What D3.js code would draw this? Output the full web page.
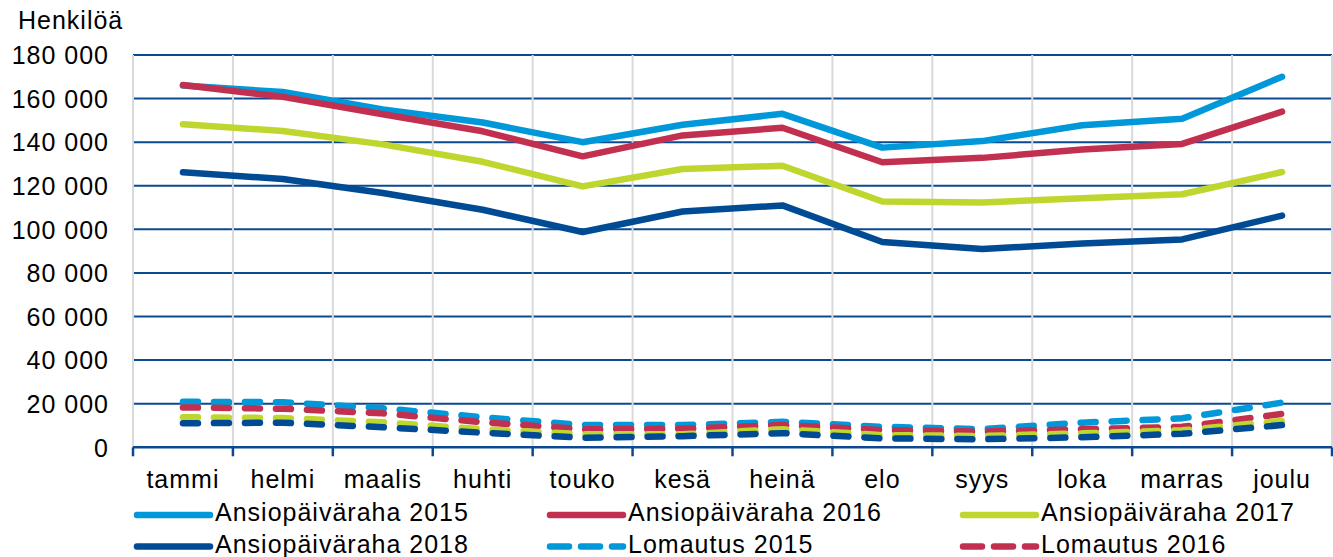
<!DOCTYPE html>
<html>
<head>
<meta charset="utf-8">
<script src="https://cdn.jsdelivr.net/npm/d3@7"></script>
<style>
  body { margin: 0; background: #fff; }
  svg { display: block; overflow: hidden; }
  text { font-family: "Liberation Sans", Arial, sans-serif; font-size: 25px; fill: #000; letter-spacing: 1px; }
</style>
</head>
<body>
<svg id="svg1" width="1333" height="557"></svg>
<script>
// months (x categories)
var months = ["tammi", "helmi", "maalis", "huhti", "touko", "kesä", "heinä", "elo", "syys", "loka", "marras", "joulu"];
var yTicks = [0, 20000, 40000, 60000, 80000, 100000, 120000, 140000, 160000, 180000];

// values
var ansio2015 = [166000, 163000, 155000, 149000, 140000, 148000, 153000, 137500, 140500, 147800, 150800, 170000];
var ansio2016 = [166200, 160800, 152800, 145000, 133500, 143100, 146600, 130800, 132800, 136600, 139200, 154000];
var ansio2017 = [148200, 145100, 139000, 131000, 119700, 127700, 129200, 112800, 112300, 114300, 116100, 126300];
var ansio2018 = [126200, 123100, 116700, 109000, 98800, 108200, 111000, 94200, 91000, 93500, 95400, 106300];
var loma2015 = [20900, 20700, 17900, 13800, 10200, 10200, 11700, 9400, 8300, 11300, 13300, 20500];
var loma2016 = [18300, 17700, 15600, 11500, 8300, 8500, 10200, 7900, 7200, 8300, 9400, 15300];
var loma2017 = [13800, 13400, 11500, 8300, 6000, 6000, 8300, 5600, 5200, 6400, 7800, 12100];
var loma2018 = [11000, 11300, 9200, 6700, 4400, 5100, 6500, 4100, 3700, 4600, 6200, 10200];

var seriesNames = ["Ansiopäiväraha 2015", "Ansiopäiväraha 2016", "Ansiopäiväraha 2017", "Ansiopäiväraha 2018",
                   "Lomautus 2015", "Lomautus 2016", "Lomautus 2017", "Lomautus 2018"];
var seriesValues = [ansio2015, ansio2016, ansio2017, ansio2018, loma2015, loma2016, loma2017, loma2018];
var colors = ["#0098d9", "#c23050", "#bfd62f", "#004b93", "#0098d9", "#c23050", "#bfd62f", "#004b93"];
var dashed = [false, false, false, false, true, true, true, true];

// only the first two legend rows fit inside the picture
var legendShown = 6;

var plotLeft = 133, plotRight = 1332, plotTop = 55, plotBottom = 447.3;

var fi = d3.formatLocale({decimal: ",", thousands: " ", grouping: [3], currency: ["", " €"]});
var fmt = fi.format(",d");

var scaleX = d3.scaleBand().domain(months).range([plotLeft, plotRight]);
var scaleY = d3.scaleLinear().domain([0, 180000]).range([plotBottom, plotTop]);

var svg = d3.select('#svg1');

// horizontal gridlines
svg.append('g')
    .selectAll('line')
    .data(yTicks.filter(function(d){ return d > 0; }))
    .enter().append('line')
    .attr('x1', plotLeft).attr('x2', plotRight)
    .attr('y1', function(d){ return scaleY(d); })
    .attr('y2', function(d){ return scaleY(d); })
    .attr('stroke', '#0b4a92')
    .attr('stroke-width', 2);

// vertical gridlines at category boundaries
var bounds = months.map(function(m){ return scaleX(m); }).concat([plotRight]);
svg.append('g')
    .selectAll('line')
    .data(bounds)
    .enter().append('line')
    .attr('x1', function(d){ return d; }).attr('x2', function(d){ return d; })
    .attr('y1', plotTop).attr('y2', plotBottom)
    .attr('stroke', '#d9d9d9')
    .attr('stroke-width', 2);

// x axis
var xAxis = svg.append('g')
    .attr('transform', 'translate(0,' + plotBottom + ')')
    .call(d3.axisBottom(scaleX).tickSize(0).tickPadding(0).tickFormat(''));
xAxis.select('.domain').attr('stroke', '#0b4a92').attr('stroke-width', 2.5).attr('d', 'M' + plotLeft + ',0H' + plotRight);
xAxis.selectAll('.bound')
    .data(bounds)
    .enter().append('line')
    .attr('class', 'bound')
    .attr('x1', function(d){ return d; }).attr('x2', function(d){ return d; })
    .attr('y1', 0).attr('y2', 9)
    .attr('stroke', '#0b4a92')
    .attr('stroke-width', 2.5);

svg.append('g')
    .selectAll('text')
    .data(months)
    .enter().append('text')
    .attr('x', function(d){ return scaleX(d) + scaleX.bandwidth() / 2; })
    .attr('y', 488)
    .style('text-anchor', 'middle')
    .text(function(d){ return d; });

// y tick labels
svg.append('g')
    .selectAll('text')
    .data(yTicks)
    .enter().append('text')
    .attr('x', 109)
    .attr('y', function(d){ return scaleY(d); })
    .attr('dy', '0.37em')
    .style('text-anchor', 'end')
    .text(function(d){ return fmt(d); });

svg.append('text')
    .text('Henkilöä')
    .attr('x', 18)
    .attr('y', 29);

// lines
var makeLine = d3.line()
    .x(function(d, i){ return scaleX(months[i]) + scaleX.bandwidth() / 2; })
    .y(function(d){ return scaleY(d); });

svg.append('g')
    .selectAll('path')
    .data(seriesValues)
    .enter().append('path')
    .attr('d', makeLine)
    .attr('fill', 'none')
    .attr('stroke', function(d, i){ return colors[i]; })
    .attr('stroke-width', 6.5)
    .attr('stroke-linecap', 'round')
    .attr('stroke-linejoin', 'round')
    .attr('stroke-dasharray', function(d, i){ return dashed[i] ? '15,16' : null; });

// legend, 3 columns
var legend = svg.append('g')
    .selectAll('g')
    .data(seriesNames.slice(0, legendShown))
    .enter().append('g')
    .attr('transform', function(d, i){
        return 'translate(' + (137 + (i % 3) * 413) + ',' + (515 + Math.floor(i / 3) * 31.5) + ')';
    });

legend.append('line')
    .attr('x1', 0).attr('x2', 73)
    .attr('y1', 0).attr('y2', 0)
    .attr('stroke', function(d, i){ return colors[i]; })
    .attr('stroke-width', 6.5)
    .attr('stroke-linecap', 'round')
    .attr('stroke-dasharray', function(d, i){ return dashed[i] ? '19,12' : null; });

legend.append('text')
    .attr('x', 78)
    .attr('y', 6)
    .text(function(d){ return d; });
</script>
</body>
</html>
